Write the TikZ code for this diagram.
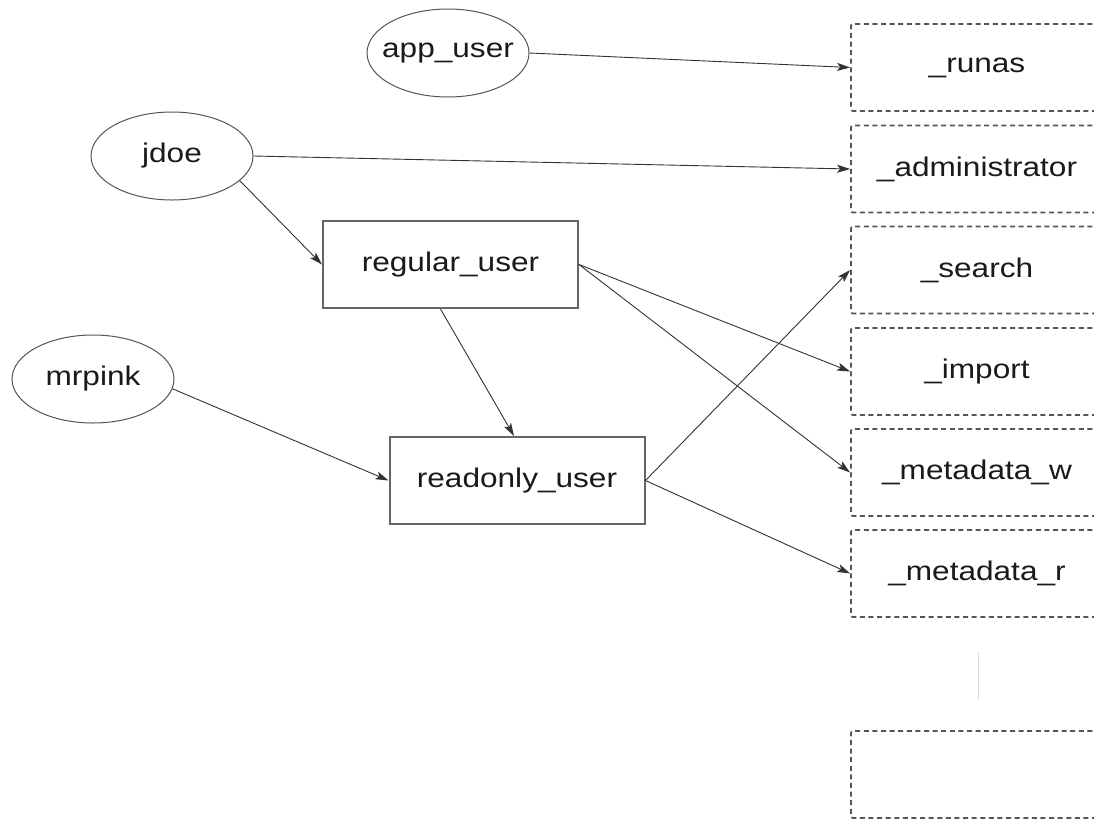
\documentclass[tikz,border=0pt]{standalone}
\usepackage{fontspec}
\setmainfont{Liberation Sans}
\usepackage{graphicx}
\usetikzlibrary{shapes.geometric,arrows.meta}
\newcommand{\stretchtxt}[1]{\scalebox{1.17}[1]{#1}}
\newcommand{\zerotxt}[1]{\makebox[0pt][c]{\stretchtxt{#1}}}
\definecolor{edgegray}{HTML}{333333}
\definecolor{boxgray}{HTML}{666666}
\definecolor{dashgray}{HTML}{555555}
\definecolor{txtcol}{HTML}{1A1A1A}
\tikzset{
  usr/.style={ellipse, draw=dashgray, line width=1pt, minimum width=162pt, minimum height=88pt, inner sep=0pt, text=txtcol, font=\fontsize{27}{32}\selectfont},
  rolebox/.style={rectangle, draw=boxgray, line width=2pt, minimum width=255pt, minimum height=87pt, inner sep=0pt, text=txtcol, font=\fontsize{27}{32}\selectfont},
  capbox/.style={rectangle, draw=dashgray, line width=1.8pt, dash pattern=on 5pt off 3.6pt, rounded corners=2pt, minimum width=252pt, minimum height=87pt, inner sep=0pt, text=txtcol, font=\fontsize{27}{32}\selectfont},
  edge/.style={draw=edgegray, line width=0.9pt, -{Stealth[length=13pt,width=8pt,inset=3pt]}}
}
\begin{document}
\begin{tikzpicture}[x=1pt,y=-1pt]
\useasboundingbox (0,0) rectangle (1094,820);
\clip (0,0) rectangle (1094,820);
\fill[white] (0,0) rectangle (1094,820);

% users
\node[usr] (app) at (448,53) {\zerotxt{app\_user}};
\node[usr] (jdoe) at (172,156) {\zerotxt{jdoe}};
\node[usr] (mrpink) at (93,379) {\zerotxt{mrpink}};

% roles
\node[rolebox] (regular) at (450.5,264.5) {\stretchtxt{regular\_user}};
\node[rolebox] (readonly) at (517,480.5) {\stretchtxt{readonly\_user}};

% capabilities
\node[capbox] (runas) at (977,67.5) {\stretchtxt{\_runas}};
\node[capbox] (admin) at (977,169) {\stretchtxt{\_administrator}};
\node[capbox] (search) at (977,270) {\stretchtxt{\_search}};
\node[capbox] (import) at (977,371.5) {\stretchtxt{\_import}};
\node[capbox] (mdw) at (977,472.5) {\stretchtxt{\_metadata\_w}};
\node[capbox] (mdr) at (977,573.5) {\stretchtxt{\_metadata\_r}};
\node[capbox] (more) at (977,774.5) {};

% ellipsis marker
\coordinate (dtop) at (978,652);
\coordinate (dbot) at (978,699);
\draw[gray!55, line width=1pt, dash pattern=on 1pt off 1pt] (dtop) -- (dbot);

% connectors
\draw[edge] (app.east) -- (runas.west);
\draw[edge] (jdoe.east) -- (admin.west);
\draw[edge] (jdoe.-20) -- (regular.west);
\draw[edge] (regular.east) -- (import.west);
\draw[edge] (regular.east) -- (mdw.west);
\draw[edge] ([xshift=-10pt]regular.south) -- ([xshift=-3pt]readonly.north);
\draw[edge] (mrpink.-7) -- (readonly.west);
\draw[edge] (readonly.east) -- (search.west);
\draw[edge] (readonly.east) -- (mdr.west);
\end{tikzpicture}
\end{document}
